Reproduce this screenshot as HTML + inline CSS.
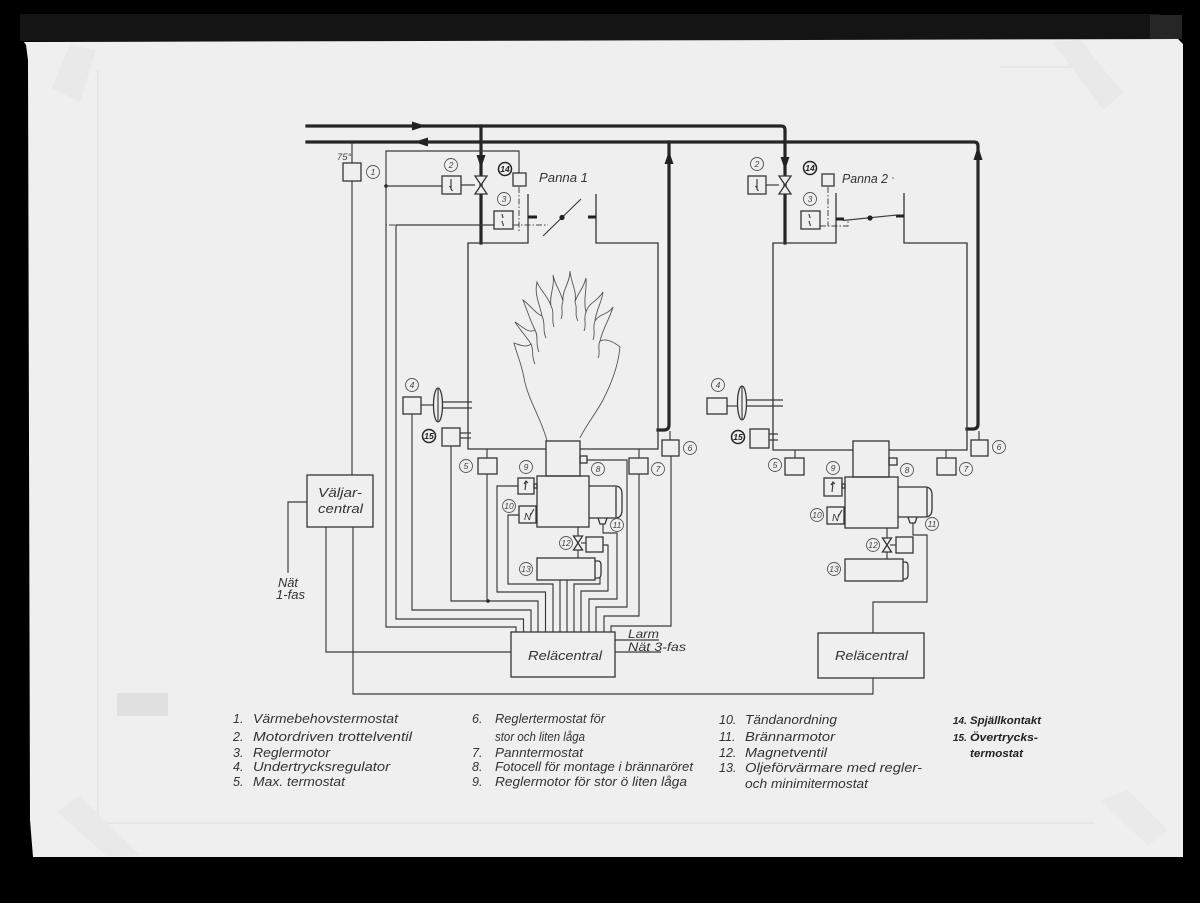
<!DOCTYPE html>
<html><head><meta charset="utf-8"><style>
html,body{margin:0;padding:0;background:#000;}
svg{display:block;}
.t{stroke:#3a3a3a;stroke-width:1.15;fill:none;}
.b{stroke:#353535;stroke-width:1.3;fill:none;}
.bf{stroke:#353535;stroke-width:1.3;fill:#efefef;}
.p{stroke:#262626;stroke-width:3.2;fill:none;stroke-linecap:square;}
.c{stroke:#555;stroke-width:0.9;fill:#efefef;}
.cb{stroke:#222;stroke-width:1.5;fill:#efefef;}
.n{font-family:"Liberation Sans",sans-serif;font-style:italic;font-size:8.5px;fill:#444;text-anchor:middle;}
.nb{font-family:"Liberation Sans",sans-serif;font-style:italic;font-weight:bold;font-size:8.5px;fill:#222;text-anchor:middle;}
.l{font-family:"Liberation Sans",sans-serif;font-style:italic;font-size:12.5px;fill:#333;}
.ls{font-family:"Liberation Sans",sans-serif;font-style:italic;font-size:11.5px;fill:#333;}
.lb{font-family:"Liberation Sans",sans-serif;font-style:italic;font-weight:bold;font-size:11px;fill:#222;}
.fl{stroke:#555;stroke-width:0.9;fill:none;}
.dd{stroke:#444;stroke-width:1;fill:none;stroke-dasharray:6 2 1.5 2;}
</style></head><body>
<svg width="1200" height="903" viewBox="0 0 1200 903" xmlns="http://www.w3.org/2000/svg">
<!-- borders -->
<rect x="0" y="0" width="1200" height="903" fill="#000"/>
<rect x="20" y="14" width="1140" height="27" fill="#141414"/>
<rect x="1150" y="15" width="32" height="24" fill="#262626"/>
<polygon points="24,42 1178,39 1183,44 1183,857 33,857 30,820 28,60 26,45" fill="#efefef"/>
<!-- faint sheet and tapes -->
<path d="M98,70 V823 H1095 M1082,42 V67 H1000" stroke="#e0e0e0" stroke-width="1.2" fill="none"/>
<polygon points="70,44 96,50 80,102 52,88" fill="#e9e9e9"/>
<polygon points="1053,42 1080,40 1123,93 1103,110" fill="#e9e9e9"/>
<polygon points="57,812 80,796 140,855 108,857" fill="#e9e9e9"/>
<polygon points="1100,800 1128,790 1168,830 1148,846" fill="#eaeaea"/>
<rect x="117" y="693" width="51" height="23" fill="#e0e0e0"/>

<!-- ===== PIPES ===== -->
<path class="p" d="M307,126 H781 Q785,126 785,130 V243"/>
<path class="p" d="M307,142 H974 Q978,142 978,146 V424 Q978,429 973,429 H967"/>
<path class="p" d="M481,126 V243"/>
<path class="p" d="M669,142 V425 Q669,430 664,430 H658"/>
<polygon points="412,121.5 426,126 412,130.5" fill="#222"/>
<polygon points="428,137.5 414,142 428,146.5" fill="#222"/>
<polygon points="476.5,155 481,168 485.5,155" fill="#222"/>
<polygon points="664.5,164 669,151 673.5,164" fill="#222"/>
<polygon points="780.5,157 785,170 789.5,157" fill="#222"/>
<polygon points="973.5,160 978,146 982.5,160" fill="#222"/>
<!-- valves -->
<path class="bf" d="M475,176 H487 L481,185 Z M475,194 H487 L481,185 Z"/>
<path class="bf" d="M779,176 H791 L785,185 Z M779,194 H791 L785,185 Z"/>

<!-- ===== PANNA 1 ===== -->
<path class="t" d="M352,142 V163 M352,181 V475"/>
<rect class="b" x="343" y="163" width="18" height="18"/>
<text x="337" y="160" style="font-family:'Liberation Sans',sans-serif;font-style:italic;font-size:9.5px;fill:#444">75°</text>
<path class="t" d="M519,173 V151 H386 V627 H516 V632"/>
<circle cx="386" cy="186" r="1.8" fill="#222"/>
<path class="t" d="M386,186 H442 M461,185 H475"/>
<rect class="b" x="442" y="176" width="19" height="18"/>
<path class="t" d="M451,179 V189 L452.5,191 M449.5,186 L451,188"/>
<rect class="b" x="513" y="173" width="13" height="13"/>
<path class="dd" d="M519,187 V232"/>
<rect class="b" x="494" y="211" width="19" height="18"/>
<path class="t" d="M502,214 L503,218 M502,221 L503.5,226"/>
<path class="t" d="M494,225 H396 V619 H523.5 V632"/>
<path class="dd" d="M395,225 H386"/>
<path class="dd" d="M513,225 H548"/>
<path class="b" d="M528,194 V243 H468 V449 H546 M596,194 V243 H658 V449 H580"/>
<path stroke="#222" stroke-width="3" d="M528,217 H537 M588,217 H596"/>
<path class="t" stroke-width="1.4" d="M543,236 L581,199"/>
<circle cx="562" cy="217.5" r="2.6" fill="#222"/>
<text class="l" x="539" y="182" textLength="49" lengthAdjust="spacingAndGlyphs">Panna 1</text>
<!-- flame -->
<path class="fl" d="M547,441 C542,420 528,400 524,378 C521,362 517,355 514,343
C520,345 526,348 531,344 C526,336 520,330 515,322
C522,326 528,334 535,330 C530,320 527,310 523,300
C530,305 536,314 542,316 C540,305 534,295 537,282
C540,290 548,296 551,306 C549,295 555,287 553,275
C555,285 560,290 563,301 C562,290 570,283 570,271
C571,283 577,290 575,302 C578,292 583,290 586,278
C587,290 583,300 586,312 C589,302 597,302 603,292
C602,302 596,310 595,321 C600,313 608,315 613,307
C610,318 603,328 600,341 C606,338 614,342 620,347
C618,368 610,386 603,400 C595,415 586,425 580,438"/>
<path class="fl" d="M531,344 C534,350 531,356 535,364 M535,330 C539,337 535,344 539,352 M542,316 C546,324 542,330 546,338 M551,306 C555,313 551,319 554,327 M563,301 C560,308 564,312 561,319 M575,302 C578,309 574,314 578,321 M586,312 C583,319 587,324 584,331 M595,321 C592,328 596,332 593,340 M600,341 C597,347 601,352 598,358"/>
<!-- 4 -->
<rect class="b" x="403" y="397" width="18" height="17"/>
<path class="t" d="M421,405 H433"/>
<ellipse cx="438" cy="405" rx="4.5" ry="17" class="b"/>
<path class="t" d="M438,388 V422"/>
<path class="t" d="M442,402 H472 M442,408 H472"/>
<path class="t" d="M412,414 V610 H531 V632"/>
<!-- 15 -->
<rect class="b" x="442" y="428" width="18" height="18"/>
<path class="t" d="M460,433 H471 M460,438 H471"/>
<path class="t" d="M451,446 V601 H538 V632"/>
<circle cx="488" cy="601" r="1.8" fill="#222"/>
<!-- 5 -->
<rect class="b" x="478" y="458" width="19" height="16"/>
<path class="t" d="M487,449 V458 M487,474 V601"/>
<!-- 7 -->
<rect class="b" x="629" y="458" width="19" height="16"/>
<path class="t" d="M639,449 V458 M639,474 V616 H604 V632"/>
<!-- 6 -->
<rect class="b" x="662" y="440" width="17" height="16"/>
<path class="t" d="M670,431 V440 M671,456 V626 H611 V632"/>
<!-- burner -->
<rect class="b" x="546" y="441" width="34" height="35"/>
<rect class="b" x="580" y="456" width="7" height="7"/>
<path class="t" d="M587,460 H627 V607 H596 V632"/>
<rect class="b" x="537" y="476" width="52" height="51"/>
<path class="b" d="M589,486 H615 Q622,486 622,494 V510 Q622,518 615,518 H589 M616,487 V517"/>
<path class="b" d="M598,518 L600,524 H605 L607,518"/>
<path class="t" d="M603,524 V533 H617 V599 H589 V632"/>
<!-- 9 -->
<rect class="b" x="518" y="478" width="16" height="16"/>
<rect class="b" x="534" y="484" width="3" height="4"/>
<path class="t" d="M525,490 L526,482 M524,484 L526,481 L528,483"/>
<path class="t" d="M518,486 H497 V592 H545.5 V632"/>
<!-- 10 -->
<rect class="b" x="519" y="506" width="17" height="17"/>
<text x="524" y="520" style="font-family:'Liberation Sans',sans-serif;font-style:italic;font-size:10px;fill:#333">N</text>
<path class="t" d="M530,516 L534,509"/>
<path class="t" d="M519,515 H508 V584 H553 V632"/>
<!-- 12 -->
<path class="t" d="M578,527 V558"/>
<path class="bf" d="M573.5,536 H582.5 L578,543 Z M573.5,550 H582.5 L578,543 Z"/>
<path class="t" d="M581,543 H586"/>
<rect class="b" x="586" y="537" width="17" height="15"/>
<path class="t" d="M603,545 H608 V591 H581 V632"/>
<!-- 13 -->
<rect class="b" x="537" y="558" width="58" height="22"/>
<path class="b" d="M595,561 H598 Q601,561 601,565 V574 Q601,578 598,578 H595"/>
<path class="t" d="M600,578 V584 H574 V632 M560,580 V632 M567,580 V632"/>
<!-- relä 1 -->
<rect class="b" x="511" y="632" width="104" height="45"/>
<text class="l" x="528" y="660" textLength="74" lengthAdjust="spacingAndGlyphs">Reläcentral</text>
<path class="t" d="M615,640 H659 M615,652 H661"/>
<text class="ls" x="628" y="638" textLength="31" lengthAdjust="spacingAndGlyphs">Larm</text>
<text class="ls" x="628" y="651" textLength="58" lengthAdjust="spacingAndGlyphs">Nät 3-fas</text>
<!-- väljar -->
<rect class="b" x="307" y="475" width="66" height="52"/>
<text class="l" x="318" y="497" textLength="44" lengthAdjust="spacingAndGlyphs">Väljar-</text>
<text class="l" x="318" y="513" textLength="45" lengthAdjust="spacingAndGlyphs">central</text>
<path class="t" d="M307,502 H288 V573"/>
<text class="l" x="278" y="587" textLength="20" lengthAdjust="spacingAndGlyphs">Nät</text>
<text class="l" x="276" y="599" textLength="29" lengthAdjust="spacingAndGlyphs">1-fas</text>
<path class="t" d="M326,527 V652 H511 M353,527 V694 H873 V678"/>

<!-- ===== PANNA 2 ===== -->
<rect class="b" x="748" y="176" width="18" height="18"/>
<path class="t" d="M757,179 V189 L758.5,191 M755.5,186 L757,188"/>
<path class="t" d="M766,185 H779"/>
<rect class="b" x="822" y="174" width="12" height="12"/>
<path class="dd" d="M828,187 V226"/>
<rect class="b" x="801" y="211" width="19" height="18"/>
<path class="t" d="M809,214 L810,218 M809,221 L810.5,226"/>
<path class="dd" d="M820,226 H848 V221"/>
<path class="b" d="M836,193 V243 H773 V450 H853 M904,193 V243 H967 V450 H889"/>
<path stroke="#222" stroke-width="3" d="M836,219 H844 M896,216 H904"/>
<path class="t" stroke-width="1.5" d="M843,220.5 L897,215"/>
<circle cx="870" cy="218" r="2.6" fill="#222"/>
<text class="l" x="842" y="183" textLength="46" lengthAdjust="spacingAndGlyphs">Panna 2</text>
<circle cx="893" cy="178" r="0.8" fill="#666"/>
<rect class="b" x="707" y="398" width="20" height="16"/>
<path class="t" d="M727,406 H737"/>
<ellipse cx="742" cy="403" rx="4.5" ry="17" class="b"/>
<path class="t" d="M742,386 V420"/>
<path class="t" d="M746,400 H783 M746,406 H783"/>
<rect class="b" x="750" y="429" width="19" height="19"/>
<path class="t" d="M769,434 H778 M769,440 H778"/>
<rect class="b" x="785" y="458" width="19" height="17"/>
<path class="t" d="M795,450 V458"/>
<rect class="b" x="937" y="458" width="19" height="17"/>
<path class="t" d="M946,450 V458"/>
<rect class="b" x="971" y="440" width="17" height="16"/>
<path class="t" d="M979,431 V440"/>
<rect class="b" x="853" y="441" width="36" height="36"/>
<rect class="b" x="889" y="458" width="8" height="7"/>
<rect class="b" x="845" y="477" width="53" height="51"/>
<path class="b" d="M898,487 H925 Q932,487 932,495 V509 Q932,517 925,517 H898 M927,488 V516"/>
<path class="b" d="M908,517 L910,523 H915 L917,517"/>
<path class="t" d="M913,523 V535 H927 V602 H873 V633"/>
<rect class="b" x="824" y="478" width="18" height="18"/>
<rect class="b" x="842" y="484" width="3" height="4"/>
<path class="t" d="M832,492 L833,483 M831,485 L833,482 L835,484"/>
<rect class="b" x="827" y="507" width="17" height="17"/>
<text x="832" y="521" style="font-family:'Liberation Sans',sans-serif;font-style:italic;font-size:10px;fill:#333">N</text>
<path class="t" d="M838,517 L842,510"/>
<path class="t" d="M887,528 V559"/>
<path class="bf" d="M882.5,538 H891.5 L887,545 Z M882.5,552 H891.5 L887,545 Z"/>
<path class="t" d="M890,545 H896"/>
<rect class="b" x="896" y="537" width="17" height="16"/>
<rect class="b" x="845" y="559" width="58" height="22"/>
<path class="b" d="M903,562 H905 Q908,562 908,566 V575 Q908,579 905,579 H903"/>
<rect class="b" x="818" y="633" width="106" height="45"/>
<text class="l" x="835" y="660" textLength="73" lengthAdjust="spacingAndGlyphs">Reläcentral</text>

<!-- ===== NUMBER CIRCLES ===== -->
<g>
<circle class="c" cx="373" cy="172" r="6.5"/><text class="n" x="373" y="175">1</text>
<circle class="c" cx="451" cy="165" r="6.5"/><text class="n" x="451" y="168">2</text>
<circle class="c" cx="504" cy="199" r="6.5"/><text class="n" x="504" y="202">3</text>
<circle class="cb" cx="505" cy="169" r="6.5"/><text class="nb" x="505" y="172">14</text>
<circle class="c" cx="412" cy="385" r="6.5"/><text class="n" x="412" y="388">4</text>
<circle class="cb" cx="429" cy="436" r="6.5"/><text class="nb" x="429" y="439">15</text>
<circle class="c" cx="466" cy="466" r="6.5"/><text class="n" x="466" y="469">5</text>
<circle class="c" cx="690" cy="448" r="6.5"/><text class="n" x="690" y="451">6</text>
<circle class="c" cx="658" cy="469" r="6.5"/><text class="n" x="658" y="472">7</text>
<circle class="c" cx="598" cy="469" r="6.5"/><text class="n" x="598" y="472">8</text>
<circle class="c" cx="526" cy="467" r="6.5"/><text class="n" x="526" y="470">9</text>
<circle class="c" cx="509" cy="506" r="6.5"/><text class="n" x="509" y="509">10</text>
<circle class="c" cx="617" cy="525" r="6.5"/><text class="n" x="617" y="528">11</text>
<circle class="c" cx="566" cy="543" r="6.5"/><text class="n" x="566" y="546">12</text>
<circle class="c" cx="526" cy="569" r="6.5"/><text class="n" x="526" y="572">13</text>

<circle class="c" cx="757" cy="164" r="6.5"/><text class="n" x="757" y="167">2</text>
<circle class="cb" cx="810" cy="168" r="6.5"/><text class="nb" x="810" y="171">14</text>
<circle class="c" cx="810" cy="199" r="6.5"/><text class="n" x="810" y="202">3</text>
<circle class="c" cx="718" cy="385" r="6.5"/><text class="n" x="718" y="388">4</text>
<circle class="cb" cx="738" cy="437" r="6.5"/><text class="nb" x="738" y="440">15</text>
<circle class="c" cx="775" cy="465" r="6.5"/><text class="n" x="775" y="468">5</text>
<circle class="c" cx="999" cy="447" r="6.5"/><text class="n" x="999" y="450">6</text>
<circle class="c" cx="966" cy="469" r="6.5"/><text class="n" x="966" y="472">7</text>
<circle class="c" cx="907" cy="470" r="6.5"/><text class="n" x="907" y="473">8</text>
<circle class="c" cx="833" cy="468" r="6.5"/><text class="n" x="833" y="471">9</text>
<circle class="c" cx="817" cy="515" r="6.5"/><text class="n" x="817" y="518">10</text>
<circle class="c" cx="932" cy="524" r="6.5"/><text class="n" x="932" y="527">11</text>
<circle class="c" cx="873" cy="545" r="6.5"/><text class="n" x="873" y="548">12</text>
<circle class="c" cx="834" cy="569" r="6.5"/><text class="n" x="834" y="572">13</text>
</g>

<!-- ===== LEGEND ===== -->
<g>
<text class="l" x="233" y="723">1.</text><text class="l" x="253" y="723" textLength="145" lengthAdjust="spacingAndGlyphs">Värmebehovstermostat</text>
<text class="l" x="233" y="741">2.</text><text class="l" x="253" y="741" textLength="159" lengthAdjust="spacingAndGlyphs">Motordriven  trottelventil</text>
<text class="l" x="233" y="757">3.</text><text class="l" x="253" y="757" textLength="77" lengthAdjust="spacingAndGlyphs">Reglermotor</text>
<text class="l" x="233" y="771">4.</text><text class="l" x="253" y="771" textLength="137" lengthAdjust="spacingAndGlyphs">Undertrycksregulator</text>
<text class="l" x="233" y="786">5.</text><text class="l" x="253" y="786" textLength="92" lengthAdjust="spacingAndGlyphs">Max. termostat</text>

<text class="l" x="472" y="723">6.</text><text class="l" x="495" y="723" textLength="110" lengthAdjust="spacingAndGlyphs">Reglertermostat för</text>
<text class="l" x="495" y="741" textLength="90" lengthAdjust="spacingAndGlyphs">stor och liten låga</text>
<text class="l" x="472" y="757">7.</text><text class="l" x="495" y="757" textLength="88" lengthAdjust="spacingAndGlyphs">Panntermostat</text>
<text class="l" x="472" y="771">8.</text><text class="l" x="495" y="771" textLength="198" lengthAdjust="spacingAndGlyphs">Fotocell för montage i brännaröret</text>
<text class="l" x="472" y="786">9.</text><text class="l" x="495" y="786" textLength="192" lengthAdjust="spacingAndGlyphs">Reglermotor för stor ö liten låga</text>

<text class="l" x="719" y="724">10.</text><text class="l" x="745" y="724" textLength="92" lengthAdjust="spacingAndGlyphs">Tändanordning</text>
<text class="l" x="719" y="741">11.</text><text class="l" x="745" y="741" textLength="90" lengthAdjust="spacingAndGlyphs">Brännarmotor</text>
<text class="l" x="719" y="757">12.</text><text class="l" x="745" y="757" textLength="82" lengthAdjust="spacingAndGlyphs">Magnetventil</text>
<text class="l" x="719" y="772">13.</text><text class="l" x="745" y="772" textLength="177" lengthAdjust="spacingAndGlyphs">Oljeförvärmare med regler-</text>
<text class="l" x="745" y="788" textLength="123" lengthAdjust="spacingAndGlyphs">och minimitermostat</text>

<text class="lb" x="953" y="724" style="font-size:10px">14.</text><text class="lb" x="970" y="724" textLength="71" lengthAdjust="spacingAndGlyphs">Spjällkontakt</text>
<text class="lb" x="953" y="741" style="font-size:10px">15.</text><text class="lb" x="970" y="741" textLength="68" lengthAdjust="spacingAndGlyphs">Övertrycks-</text>
<text class="lb" x="970" y="757" textLength="53" lengthAdjust="spacingAndGlyphs">termostat</text>
</g>
</svg>
</body></html>
